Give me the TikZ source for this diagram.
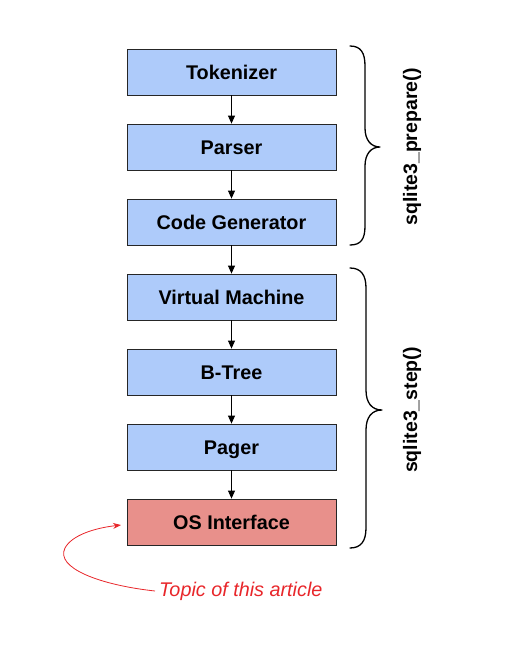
\documentclass[tikz,border=0pt]{standalone}
\usepackage{fontspec}
\setmainfont{Liberation Sans}
\usetikzlibrary{arrows.meta}
\definecolor{boxblue}{HTML}{AECBFA}
\definecolor{boxred}{HTML}{E8908B}
\definecolor{notered}{HTML}{E8262A}
\begin{document}
\begin{tikzpicture}[x=1pt,y=-1pt,
  stage/.style={draw=black!85, line width=0.8pt, fill=boxblue, minimum width=209pt, minimum height=46pt, inner sep=0pt, text height=14pt, text depth=0pt, font=\fontsize{19.8}{23}\selectfont\bfseries},
  flow/.style={-{Triangle[length=8pt,width=7pt]}, line width=0.8pt},
  bracepath/.style={line width=1.3pt, line cap=round, line join=round},
  fname/.style={rotate=90, font=\fontsize{19.5}{23}\selectfont\bfseries}]
\useasboundingbox (0,0) rectangle (506,670);
\node[stage] (tok) at (231.5,72) {Tokenizer};
\node[stage] (par) at (231.5,147) {Parser};
\node[stage] (gen) at (231.5,222) {Code Generator};
\node[stage] (vm) at (231.5,297) {Virtual Machine};
\node[stage] (bt) at (231.5,372) {B-Tree};
\node[stage] (pg) at (231.5,447) {Pager};
\node[stage, fill=boxred] (os) at (231.5,522) {OS Interface};
\draw[flow] (tok) -- (par);
\draw[flow] (par) -- (gen);
\draw[flow] (gen) -- (vm);
\draw[flow] (vm) -- (bt);
\draw[flow] (bt) -- (pg);
\draw[flow] (pg) -- (os);
% braces
\draw[bracepath] (350,46) .. controls (361,46) and (365,53) .. (365,66) -- (365,128)
  .. controls (365,140) and (371,147) .. (380,147)
  .. controls (371,147) and (365,154) .. (365,166) -- (365,226)
  .. controls (365,239) and (361,245) .. (350,245);
\draw[bracepath] (350,268) .. controls (361,268) and (366,275) .. (366,288) -- (366,390)
  .. controls (366,403) and (372,410) .. (382,410)
  .. controls (372,410) and (366,417) .. (366,430) -- (366,528)
  .. controls (366,541) and (361,548) .. (350,548);
\node[fname] (prep) at (412,147) {sqlite3\_prepare()};
\node[fname] (step) at (412,410) {sqlite3\_step()};
% annotation
\node[anchor=west, text=notered, font=\fontsize{19.8}{23}\selectfont\itshape, inner sep=0pt] (topic) at (159,591) {Topic of this article};
\coordinate (tip) at (121,525);
\draw[notered, line width=0.8pt, -{Stealth[length=8pt,width=6pt]}] (topic.west) ++(-4,0) .. controls (100,585) and (55,568) .. (65,548) .. controls (72,535) and (95,528) .. (tip);
\end{tikzpicture}
\end{document}
